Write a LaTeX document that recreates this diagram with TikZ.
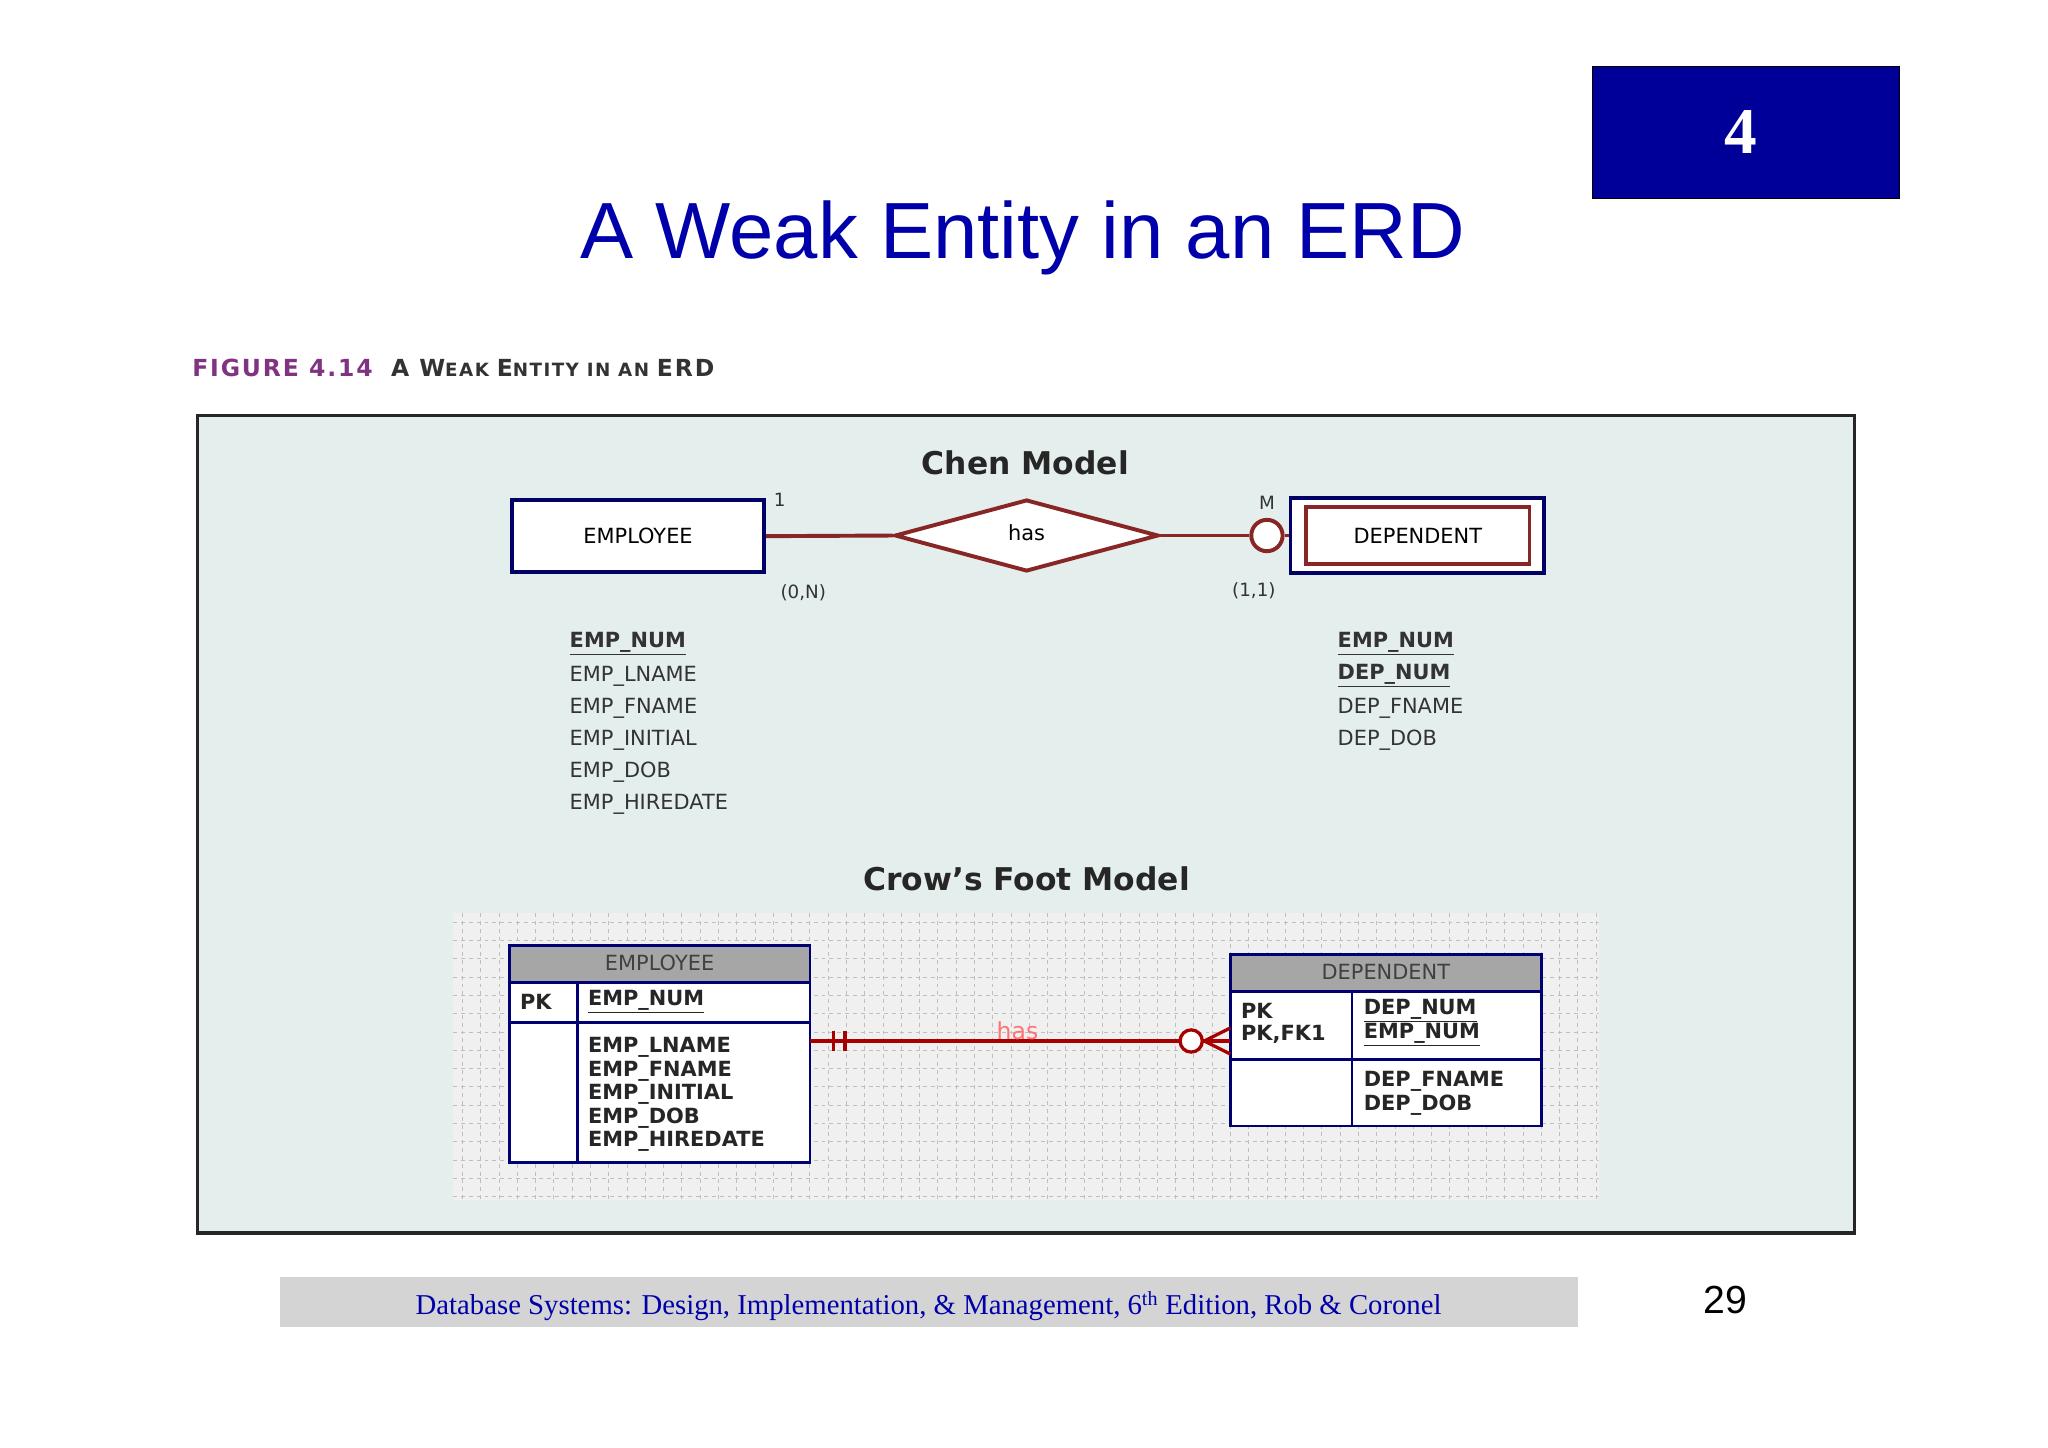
\documentclass[tikz,border=0pt]{standalone}
\usepackage{fontspec}
\usetikzlibrary{shapes.geometric}
\setmainfont{Liberation Sans}
\newfontfamily\serifa{Liberation Serif}
\newfontfamily\optf{DejaVu Sans}
\newfontfamily\capf[LetterSpace=8]{DejaVu Sans}
\begin{document}
\begin{tikzpicture}[x=1pt,y=-1pt,
  chenred/.style={draw=red!45!black!85,line width=3pt},
  blu/.style={draw=blue!40!black,line width=3pt},
  attr/.style={anchor=west,font=\optf\fontsize{16}{16}\selectfont,inner sep=0pt,text=black!80},
  tb/.style={font=\optf\bfseries\fontsize{16}{16}\selectfont,anchor=west,inner sep=0pt,text=black!85},
  tbox/.style={draw=blue!45!black,line width=2pt}]
\useasboundingbox (0,0) rectangle (1568,1108);
\fill[white] (0,0) rectangle (1568,1108);
% top box
\node[fill={rgb,255:red,0;green,0;blue,153},draw=black,minimum width=235pt,minimum height=101pt,inner sep=0pt] (num) at (1336.5,101.5) {};
\node[text=white,font=\serifa\bfseries\fontsize{50}{50}\selectfont] (numt) at (1333,101) {4};
\node[text={rgb,255:red,0;green,0;blue,170},font=\fontsize{61}{61}\selectfont] (title) at (783,182) {A Weak Entity in an ERD};
\node[anchor=west,inner sep=0pt,font=\capf\bfseries\fontsize{18}{18}\selectfont] (cap) at (147,282) {\textcolor{violet!60!gray}{FIGURE 4.14}\hspace{14pt}\textcolor{black!80}{A W\fontsize{14}{14}\selectfont EAK \fontsize{18}{18}\selectfont E\fontsize{14}{14}\selectfont NTITY IN AN \fontsize{18}{18}\selectfont ERD}};
% frame
\filldraw[fill={rgb,255:red,228;green,238;blue,236},draw=black!85,line width=2.5pt] (151,318) rectangle (1420,944);
\node[font=\optf\bfseries\fontsize{24}{24}\selectfont,text=black!85] (chen) at (785,354) {Chen Model};
% Chen
\node[blu,fill=white,minimum width=193pt,minimum height=55pt,inner sep=0pt,font=\optf\fontsize{16}{16}\selectfont] (emp) at (488.5,410.5) {EMPLOYEE};
\node[draw,chenred,fill=white,diamond,aspect=3.7,minimum width=202pt,minimum height=55pt,inner sep=0pt] (has) at (786,410) {};
\node[font=\optf\fontsize{16}{16}\selectfont] (hast) at (786,408) {has};
\node[blu,fill=white,minimum width=194pt,minimum height=58pt,inner sep=0pt] (dep) at (1085,410) {};
\node[chenred,minimum width=171pt,minimum height=44pt,inner sep=0pt,font=\optf\fontsize{16}{16}\selectfont] (depi) at (1085.5,410) {DEPENDENT};
\node[draw=red!45!black!85,line width=3pt,circle,minimum size=24pt,inner sep=0pt,fill=white] (circ) at (970,410) {};
\draw[chenred] (emp.east) -- (has.west);
\draw[chenred] (has.east) -- (circ.west);
\draw[chenred] (circ.east) -- (dep.west);
\begin{scope}[every node/.style={font=\optf\fontsize{14}{14}\selectfont,text=black!80}]
\node (l1) at (597,383) {1};
\node (l2) at (615,454) {(0,N)};
\node (l3) at (970,385) {M};
\node (l4) at (960,452) {(1,1)};
\end{scope}
\node[attr] (a1) at (436,493) {\textbf{\underline{EMP\_NUM}}};
\node[attr] (a2) at (436,517.5) {EMP\_LNAME};
\node[attr] (a3) at (436,542) {EMP\_FNAME};
\node[attr] (a4) at (436,566.5) {EMP\_INITIAL};
\node[attr] (a5) at (436,591) {EMP\_DOB};
\node[attr] (a6) at (436,615.5) {EMP\_HIREDATE};
\node[attr] (b1) at (1024,493) {\textbf{\underline{EMP\_NUM}}};
\node[attr] (b2) at (1024,517.5) {\textbf{\underline{DEP\_NUM}}};
\node[attr] (b3) at (1024,542) {DEP\_FNAME};
\node[attr] (b4) at (1024,566.5) {DEP\_DOB};
\node[font=\optf\bfseries\fontsize{24}{24}\selectfont,text=black!85] (crow) at (786,673) {Crow’s Foot Model};
% grid
\fill[black!6] (347,699) rectangle (1224,919);
\begin{scope}
\clip (347,699) rectangle (1224,919);
\foreach \x in {354,368,...,1224} \draw[black!25,dashed,line width=0.5pt] (\x,699) -- (\x,919);
\foreach \y in {706,720,...,919} \draw[black!25,dashed,line width=0.5pt] (347,\y) -- (1224,\y);
\end{scope}
% employee table
\fill[white] (390,724) rectangle (620,890);
\fill[black!35] (390,724) rectangle (620,752);
\draw[tbox] (390,724) rectangle (620,890);
\draw[tbox] (390,752) -- (620,752);
\draw[tbox] (390,783) -- (620,783);
\draw[tbox] (442,752) -- (442,890);
\node[font=\optf\fontsize{16}{16}\selectfont,text=black!75] (eh) at (505,737) {EMPLOYEE};
\node[tb] (epk) at (398,767) {PK};
\node[tb] (ek) at (450,767) {\underline{EMP\_NUM}};
\node[tb] (e1) at (450,802) {EMP\_LNAME};
\node[tb] (e2) at (450,820) {EMP\_FNAME};
\node[tb] (e3) at (450,838) {EMP\_INITIAL};
\node[tb] (e4) at (450,856) {EMP\_DOB};
\node[tb] (e5) at (450,874) {EMP\_HIREDATE};
% dependent table
\fill[white] (942,731) rectangle (1180,862);
\fill[black!35] (942,731) rectangle (1180,759);
\draw[tbox] (942,731) rectangle (1180,862);
\draw[tbox] (942,759) -- (1180,759);
\draw[tbox] (942,811) -- (1180,811);
\draw[tbox] (1035,759) -- (1035,862);
\node[font=\optf\fontsize{16}{16}\selectfont,text=black!75] (dh) at (1061,744) {DEPENDENT};
\node[tb] (dpk) at (950,774) {PK};
\node[tb] (dpk2) at (950,792) {PK,FK1};
\node[tb] (dk1) at (1044,774) {\underline{DEP\_NUM}};
\node[tb] (dk2) at (1044,792) {\underline{EMP\_NUM}};
\node[tb] (d1) at (1044,828) {DEP\_FNAME};
\node[tb] (d2) at (1044,846) {DEP\_DOB};
% relationship
\coordinate (rs) at (620,797);
\coordinate (re) at (942,797);
\draw[red!65!black,line width=2.5pt] (rs) -- (re);
\draw[red!65!black,line width=2.5pt] (638,789) -- (638,805) (647,789) -- (647,805);
\node[draw=red!65!black,line width=2.5pt,circle,minimum size=17pt,inner sep=0pt,fill=white] (cc) at (912,797) {};
\draw[red!65!black,line width=2.5pt] (942,787) -- (922,797) -- (942,807);
\node[text=red!55,font=\optf\fontsize{18}{18}\selectfont] (cfhas) at (779,789) {has};
% footer
\fill[black!17] (214,978) rectangle (1208,1016);
\node[text={rgb,255:red,0;green,0;blue,170},font=\serifa\fontsize{22}{22}\selectfont] (foot) at (711,1000) {Database Systems: Design, Implementation, \& Management, 6\textsuperscript{th} Edition, Rob \& Coronel};
\node[font=\fontsize{30}{30}\selectfont] (pg) at (1321,995) {29};
\end{tikzpicture}
\end{document}
